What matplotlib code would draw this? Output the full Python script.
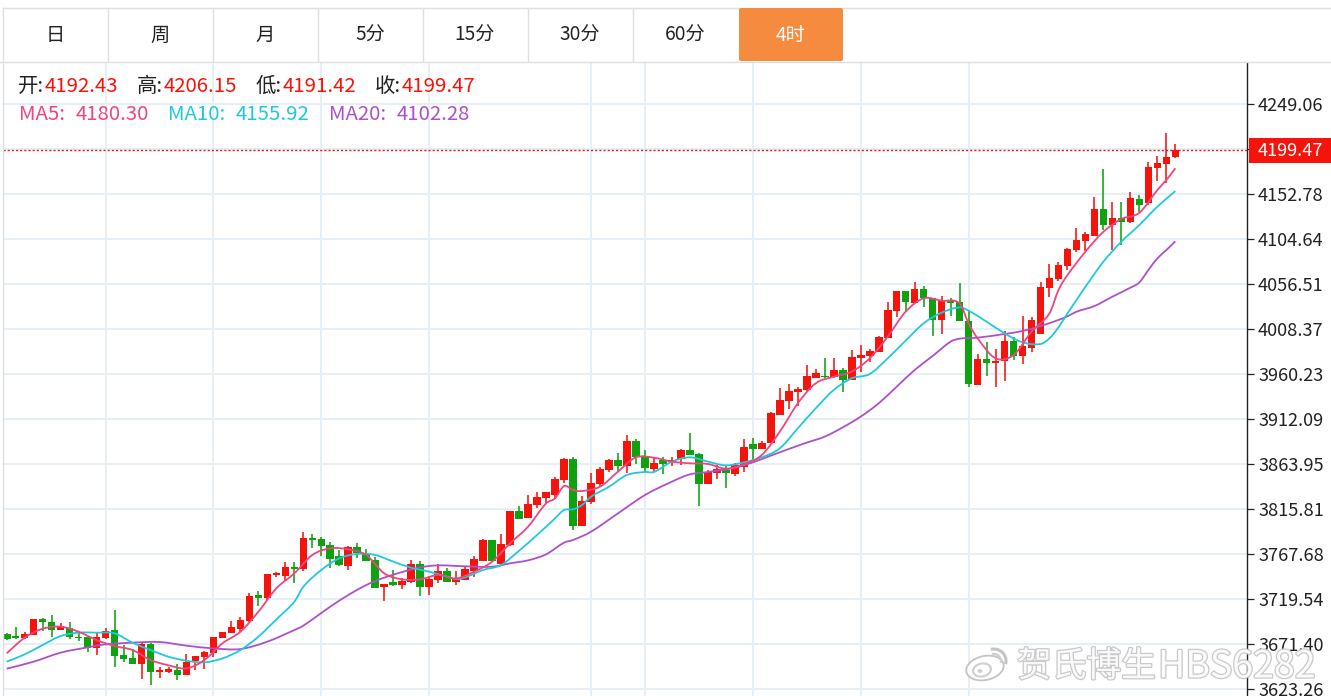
import matplotlib
matplotlib.use('Agg')
from matplotlib import pyplot as plt
from matplotlib import patheffects as pe
from matplotlib.patches import Rectangle, FancyBboxPatch, Ellipse, Arc, PathPatch
from matplotlib.path import Path

plt.rcParams['font.family'] = ['Noto Sans CJK SC', 'DejaVu Sans']

W, H = 1331, 696

opens = [3682.2, 3680.4, 3678.3, 3681.8, 3698.6, 3695.7, 3686.8, 3689.3, 3679.7, 3679.3,
         3667.2, 3677.9, 3686.5, 3660.1, 3657.2, 3650.5, 3671.9, 3641.6, 3642.3, 3644.1,
         3638.7, 3653.3, 3657.6, 3661.9, 3677.9, 3684.0, 3688.2, 3696.4, 3723.9, 3721.0,
         3745.6, 3744.5, 3754.5, 3752.4, 3785.5, 3783.7, 3777.3, 3766.3, 3755.2, 3775.2,
         3768.1, 3761.3, 3732.4, 3738.1, 3734.6, 3738.1, 3757.0, 3733.1, 3740.6, 3750.2,
         3738.1, 3740.6, 3749.5, 3760.9, 3783.0, 3757.4, 3777.7, 3814.4, 3806.5, 3820.4,
         3827.9, 3831.5, 3846.8, 3869.6, 3797.6, 3823.3, 3842.5, 3857.8, 3868.5, 3862.5,
         3888.8, 3872.5, 3859.3, 3868.5, 3866.4, 3870.0, 3879.2, 3875.3, 3843.2, 3854.6,
         3857.8, 3853.6, 3861.4, 3886.0, 3880.6, 3887.1, 3917.0, 3931.2, 3941.2, 3943.4,
         3956.5, 3958.7, 3956.9, 3964.7, 3954.0, 3977.9, 3979.3, 3984.0, 3998.9, 4027.8,
         4049.2, 4036.3, 4051.3, 4041.7, 4018.2, 4039.5, 4037.4, 4017.4, 3949.0, 3976.5,
         3972.2, 3974.0, 3996.1, 3979.7, 3988.6, 4003.2, 4052.0, 4062.3, 4076.2, 4092.6,
         4102.6, 4108.3, 4137.1, 4120.0, 4127.1, 4122.9, 4147.8, 4143.5, 4180.9, 4184.9,
         4192.43]
highs = [3683.3, 3689.7, 3685.0, 3698.6, 3699.3, 3703.2, 3693.9, 3695.7, 3684.0, 3679.7,
         3683.3, 3688.6, 3707.8, 3670.8, 3666.2, 3672.6, 3672.6, 3647.6, 3646.9, 3650.5,
         3661.2, 3659.0, 3664.7, 3679.3, 3685.0, 3696.8, 3700.4, 3726.7, 3728.2, 3747.0,
         3749.2, 3759.1, 3759.1, 3791.2, 3789.1, 3785.9, 3781.2, 3772.3, 3777.0, 3779.5,
         3773.0, 3765.2, 3736.3, 3751.3, 3742.0, 3761.3, 3760.9, 3744.9, 3757.4, 3753.4,
         3750.2, 3754.5, 3765.9, 3784.1, 3783.0, 3789.1, 3814.4, 3819.7, 3831.5, 3834.0,
         3834.7, 3850.7, 3870.3, 3871.7, 3830.1, 3854.3, 3861.0, 3869.2, 3875.7, 3895.6,
         3891.3, 3879.2, 3870.3, 3871.4, 3871.4, 3880.6, 3897.0, 3876.4, 3857.8, 3862.8,
         3862.1, 3865.7, 3891.0, 3891.7, 3888.8, 3919.8, 3945.5, 3949.4, 3946.9, 3970.1,
         3965.4, 3977.6, 3977.6, 3966.5, 3986.1, 3991.4, 3987.2, 4001.1, 4037.0, 4049.5,
         4049.2, 4058.8, 4054.9, 4041.7, 4043.8, 4041.3, 4058.1, 4028.8, 3981.8, 3994.3,
         3986.8, 4006.4, 4000.3, 4022.8, 4021.0, 4059.1, 4077.6, 4079.8, 4095.4, 4116.8,
         4112.2, 4149.2, 4179.9, 4144.6, 4144.3, 4154.9, 4152.1, 4186.6, 4193.4, 4218.4,
         4206.15]
lows = [3676.1, 3676.8, 3676.8, 3681.8, 3686.1, 3679.7, 3686.5, 3677.2, 3674.7, 3662.9,
        3660.5, 3677.2, 3646.9, 3652.6, 3650.5, 3634.8, 3628.4, 3635.5, 3641.2, 3633.0,
        3638.7, 3644.1, 3644.8, 3657.6, 3677.9, 3684.0, 3684.7, 3695.7, 3712.5, 3718.9,
        3743.5, 3740.3, 3737.4, 3749.5, 3774.8, 3765.9, 3753.4, 3755.6, 3751.3, 3763.4,
        3760.2, 3732.1, 3717.8, 3733.9, 3730.3, 3737.4, 3723.2, 3724.6, 3737.4, 3738.1,
        3734.9, 3740.3, 3743.8, 3760.9, 3760.2, 3757.4, 3777.0, 3805.8, 3806.2, 3817.6,
        3822.6, 3827.9, 3843.6, 3793.7, 3797.6, 3821.5, 3839.7, 3855.4, 3857.1, 3854.3,
        3864.3, 3856.1, 3856.1, 3853.2, 3862.1, 3862.8, 3873.9, 3819.7, 3843.2, 3847.9,
        3839.0, 3851.8, 3856.1, 3868.5, 3880.3, 3886.3, 3916.6, 3923.0, 3926.3, 3942.6,
        3956.5, 3956.5, 3956.5, 3941.6, 3953.7, 3962.2, 3973.6, 3983.6, 3998.6, 4021.7,
        4027.1, 4036.0, 4032.4, 4001.4, 4003.2, 4022.8, 4016.7, 3946.2, 3949.0, 3958.7,
        3946.9, 3953.0, 3975.4, 3971.1, 3984.3, 4002.8, 4042.3, 4060.2, 4071.6, 4091.2,
        4092.2, 4107.9, 4114.3, 4092.9, 4098.3, 4122.2, 4133.9, 4141.0, 4167.1, 4164.9,
        4191.42]
closes = [3677.2, 3678.3, 3682.9, 3698.6, 3695.0, 3686.8, 3691.1, 3679.0, 3678.3, 3667.6,
          3679.0, 3686.1, 3659.4, 3656.2, 3650.5, 3671.9, 3641.6, 3644.4, 3645.1, 3638.7,
          3652.6, 3659.0, 3663.7, 3679.0, 3685.0, 3689.7, 3697.5, 3723.5, 3721.0, 3747.0,
          3747.7, 3754.5, 3752.4, 3784.8, 3783.4, 3776.6, 3763.1, 3755.9, 3775.2, 3768.8,
          3760.2, 3732.1, 3736.3, 3734.6, 3739.2, 3757.0, 3732.8, 3741.7, 3749.5, 3738.1,
          3741.3, 3751.7, 3762.4, 3783.0, 3760.2, 3778.7, 3814.0, 3805.8, 3821.1, 3829.0,
          3834.0, 3848.2, 3869.6, 3797.6, 3824.4, 3843.6, 3858.6, 3868.9, 3862.5, 3888.8,
          3872.1, 3859.6, 3865.7, 3863.9, 3868.5, 3879.2, 3874.2, 3843.2, 3856.1, 3858.6,
          3854.3, 3863.2, 3882.8, 3880.3, 3886.7, 3918.4, 3932.7, 3942.3, 3944.4, 3958.3,
          3961.2, 3956.9, 3964.7, 3954.0, 3979.0, 3980.7, 3984.7, 4000.0, 4028.8, 4049.2,
          4037.0, 4051.3, 4041.7, 4018.2, 4038.8, 4036.0, 4016.7, 3949.4, 3976.5, 3972.2,
          3974.7, 3996.1, 3980.0, 3990.0, 4018.5, 4053.0, 4063.4, 4076.9, 4094.4, 4103.6,
          4110.4, 4136.8, 4119.7, 4127.1, 4122.9, 4148.2, 4141.0, 4181.3, 4185.6, 4192.4,
          4199.47]

ma5_idx = [0, 2, 4, 6, 8, 10, 12, 14, 16, 18, 20, 22, 24, 26, 28, 30, 32, 34, 36, 38, 40,
           42, 44, 46, 48, 50, 52, 54, 56, 58, 60, 61, 62, 63, 64, 66, 68, 70, 72, 74, 76,
           78, 80, 82, 84, 86, 88, 90, 92, 94, 96, 98, 100, 102, 104, 106, 107, 108, 110,
           112, 114, 116, 117, 118, 120, 122, 124, 126, 128, 129, 130]
ma5 = [3661.9, 3678.6, 3688.2, 3690.4, 3685.0, 3676.1, 3669.7, 3665.4, 3654.8, 3649.1, 3645.8,
       3654.8, 3672.6, 3685.0, 3706.4, 3731.4, 3747.4, 3767.0, 3774.1, 3773.0, 3767.0,
       3747.4, 3741.0, 3741.0, 3745.6, 3742.0, 3749.2, 3759.9, 3779.5, 3797.3, 3822.2, 3827.6,
       3840.7, 3836.5, 3835.4, 3840.0, 3856.1, 3871.4, 3871.0, 3866.8, 3865.0, 3864.3, 3859.3,
       3863.9, 3873.9, 3898.8, 3929.1, 3950.5, 3957.6, 3963.0, 3977.2, 4000.3, 4027.1, 4041.3,
       4038.8, 4036.0, 4014.6, 3998.6, 3977.2, 3980.7, 4005.7, 4025.3, 4050.2, 4066.2, 4091.2,
       4112.5, 4126.1, 4132.8, 4157.1, 4167.8, 4180.30]

ma10_idx = [0, 2, 4, 6, 8, 10, 12, 14, 16, 18, 20, 22, 24, 26, 28, 30, 32, 33, 35, 37, 39, 41,
            43, 45, 47, 49, 50, 51, 53, 55, 57, 59, 61, 62, 63, 64, 65, 67, 69, 71, 72, 74, 76,
            78, 80, 82, 84, 86, 88, 90, 92, 94, 96, 98, 100, 102, 104, 106, 107, 109, 111, 113,
            115, 116, 117, 118, 119, 120, 122, 124, 126, 128, 130]
ma10 = [3653.0, 3660.8, 3670.8, 3680.4, 3684.0, 3684.0, 3683.3, 3673.3, 3665.4, 3658.3, 3654.0,
        3652.3, 3656.5, 3665.4, 3679.7, 3698.2, 3717.1, 3733.1, 3751.0, 3763.4, 3768.1, 3767.0,
        3759.9, 3753.4, 3749.2, 3743.8, 3741.3, 3743.1, 3751.0, 3756.3, 3771.6, 3788.4, 3806.2,
        3815.1, 3815.8, 3820.4, 3829.3, 3840.0, 3852.5, 3855.7, 3855.7, 3866.8, 3871.4, 3866.8,
        3862.8, 3866.0, 3871.4, 3881.0, 3902.4, 3923.8, 3943.4, 3955.8, 3960.4, 3977.2, 3996.1,
        4014.6, 4026.0, 4031.7, 4028.1, 4016.4, 4003.9, 3994.3, 3992.5, 3998.6, 4010.3, 4025.3,
        4039.5, 4053.7, 4080.5, 4101.9, 4119.7, 4139.3, 4155.92]

ma20_idx = [0, 3, 6, 9, 11, 14, 17, 20, 23, 26, 29, 32, 33, 36, 38, 40, 42, 44, 46, 48, 51, 54,
            56, 58, 60, 62, 63, 65, 68, 71, 74, 76, 78, 81, 83, 85, 87, 89, 91, 93, 95, 97, 99,
            101, 103, 105, 106, 108, 111, 113, 115, 117, 118, 119, 121, 123, 125, 126, 127, 128,
            129, 130]
ma20 = [3645.5, 3653.0, 3662.6, 3668.3, 3671.5, 3673.3, 3674.0, 3670.1, 3667.2, 3666.5, 3674.4,
        3686.8, 3691.5, 3711.8, 3724.2, 3734.9, 3742.8, 3748.8, 3753.8, 3755.9, 3754.9, 3754.5,
        3758.1, 3761.3, 3767.7, 3780.2, 3783.0, 3791.9, 3811.5, 3831.1, 3845.4, 3853.2, 3855.7,
        3860.3, 3866.0, 3873.2, 3880.3, 3887.1, 3893.5, 3903.4, 3914.9, 3929.1, 3946.9, 3964.7,
        3979.7, 3995.0, 3998.2, 3999.3, 4003.2, 4006.4, 4011.7, 4018.2, 4022.1, 4027.0, 4033.1,
        4043.1, 4052.7, 4058.4, 4071.6, 4084.0, 4092.9, 4102.28]

price_ticks = [4249.06, 4200.92, 4152.78, 4104.64, 4056.51, 4008.37, 3960.23, 3912.09,
               3863.95, 3815.81, 3767.68, 3719.54, 3671.40, 3623.26]
grid_candles = [11, 23, 35, 47, 65, 71, 83, 95, 107]
tabs = ['日', '周', '月', '5分', '15分', '30分', '60分', '4时']
active_tab = 7
last_price = 4199.47

RED = '#f5140c'
GREEN = '#0ea30e'
MA5_C = '#f0447e'
MA10_C = '#1fc9dc'
MA20_C = '#ad50c9'
GRID = '#e7eff6'
BORDER = '#dcdfe3'

def smooth_line(ax, idx, vals, color, z):
    # the page draws its MA lines as curves, so go through the read points with beziers
    pts = list(zip(idx, vals))
    verts, codes = [pts[0]], [Path.MOVETO]
    for i in range(len(pts) - 1):
        p0, p1, p2, p3 = pts[max(i - 1, 0)], pts[i], pts[i + 1], pts[min(i + 2, len(pts) - 1)]
        dx = (p2[0] - p1[0]) / 3
        s1 = (p2[1] - p0[1]) / max(p2[0] - p0[0], 1)
        s2 = (p3[1] - p1[1]) / max(p3[0] - p1[0], 1)
        verts += [(p1[0] + dx, p1[1] + s1 * dx), (p2[0] - dx, p2[1] - s2 * dx), p2]
        codes += [Path.CURVE4] * 3
    ax.add_patch(PathPatch(Path(verts, codes), fc='none', ec=color, lw=1.3, zorder=z))

fig = plt.figure(figsize=(W / 100, H / 100), dpi=100, facecolor='white')

# price chart sits under the tab bar, y axis on its right edge
ax = fig.add_axes([3 / W, 0, 1244 / W, 634 / H])
ax.set_xlim(-0.41, 137.97)
ax.set_ylim(3616.3, 4293.9)
ax.set_facecolor('white')
for s in ['top', 'left', 'bottom']:
    ax.spines[s].set_visible(False)
ax.spines['right'].set_color('#222222')
ax.spines['right'].set_linewidth(1)
ax.yaxis.tick_right()
ax.set_yticks(price_ticks, [f'{p:.2f}' for p in price_ticks])
ax.set_xticks(grid_candles, [''] * len(grid_candles))
ax.tick_params(axis='y', length=5, width=0.9, color='#222222', labelsize=13.1, pad=3, labelcolor='#222222')
ax.tick_params(axis='x', length=0)
ax.grid(True, color=GRID, lw=1.4, zorder=0)
ax.set_axisbelow(True)

xs = range(len(opens))
colors = [RED if c >= o else GREEN for o, c in zip(opens, closes)]
ax.vlines(xs, lows, highs, colors=colors, lw=1.15, zorder=2)
ax.bar(xs, [abs(c - o) for o, c in zip(opens, closes)], bottom=[min(o, c) for o, c in zip(opens, closes)],
       width=0.85, color=colors, lw=0, zorder=3)

smooth_line(ax, ma20_idx, ma20, MA20_C, 4)
smooth_line(ax, ma10_idx, ma10, MA10_C, 5)
smooth_line(ax, ma5_idx, ma5, MA5_C, 6)
ax.axhline(last_price, color=RED, lw=1.0, ls=(0, (1.5, 1.5)), zorder=7)

# overlay in pixel coords for the page furniture around the chart
ov = fig.add_axes([0, 0, 1, 1])
ov.set_xlim(0, W)
ov.set_ylim(H, 0)
ov.axis('off')
ov.patch.set_alpha(0)

ov.add_patch(Rectangle((0, 0), W, 61.5, color='white', lw=0))
ov.plot([3, W], [8, 8], color=BORDER, lw=1)
ov.plot([0, W], [61.5, 61.5], color=BORDER, lw=1)
ov.plot([3, 3], [8, H], color=BORDER, lw=1)
for i, t in enumerate(tabs):
    left = 3 + 105 * i
    if i == active_tab:
        ov.add_patch(FancyBboxPatch((left + 1, 8), 104, 53, boxstyle='round,pad=0,rounding_size=2',
                                    fc='#f58b3f', ec='none', zorder=3))
        ov.text(left + 52, 35.5, t, color='white', fontsize=13.8, ha='center', va='center', zorder=4)
    else:
        if i < active_tab - 1:
            ov.plot([left + 105, left + 105], [8, 61], color=BORDER, lw=1)
        ov.text(left + 52, 35.5, t, color='#222222', fontsize=13.8, ha='center', va='center')

# open/high/low/close row
ohlc_row = [('开:', 18, '4192.43', 45), ('高:', 137, '4206.15', 164),
            ('低:', 256, '4191.42', 283), ('收:', 375, '4199.47', 402)]
for lab, lx, val, vx in ohlc_row:
    ov.text(lx, 86, lab, color='#222222', fontsize=14.7, ha='left', va='center')
    ov.text(vx, 86, val, color='#fa1208', fontsize=14.7, ha='left', va='center')

ma_row = [('MA5:', 19, '4180.30', 76, MA5_C), ('MA10:', 168, '4155.92', 236, MA10_C),
          ('MA20:', 329, '4102.28', 397, MA20_C)]
for lab, lx, val, vx, c in ma_row:
    ov.text(lx, 114, lab, color=c, fontsize=14.7, ha='left', va='center')
    ov.text(vx, 114, val, color=c, fontsize=14.7, ha='left', va='center')

# last price tag
ov.add_patch(Rectangle((1249, 138), W - 1249, 25, fc='#f5140c', ec='none', zorder=5))
ov.text(1290, 150.5, '4199.47', color='white', fontsize=13.1, ha='center', va='center', zorder=6)

# weibo watermark
halo = [pe.withStroke(linewidth=1.8, foreground='#c4c4c4')]
ov.text(1017, 667, '贺氏博生', color='white', fontsize=25, ha='left', va='center', alpha=0.9,
        path_effects=halo, zorder=8)
ov.text(1158, 667, 'HBS6282', color='white', fontsize=27, ha='left', va='center', alpha=0.9,
        path_effects=halo, zorder=8)
ov.add_patch(Ellipse((985, 668), 38, 24, angle=-12, fc='white', ec='#c4c4c4', lw=1.3, zorder=8))
ov.add_patch(Ellipse((982, 670), 18, 13, angle=-12, fc='white', ec='#cfcfcf', lw=1.5, zorder=9))
ov.add_patch(Ellipse((980, 671), 5, 4, fc='#cfcfcf', ec='none', zorder=9))
ov.add_patch(Arc((994, 661), 24, 24, theta1=-60, theta2=60, angle=-45, ec='#c4c4c4', lw=2.2, zorder=9))
ov.add_patch(Arc((994, 661), 14, 14, theta1=-60, theta2=60, angle=-45, ec='#cfcfcf', lw=1.6, zorder=9))

fig.savefig('out.png', dpi=100)
